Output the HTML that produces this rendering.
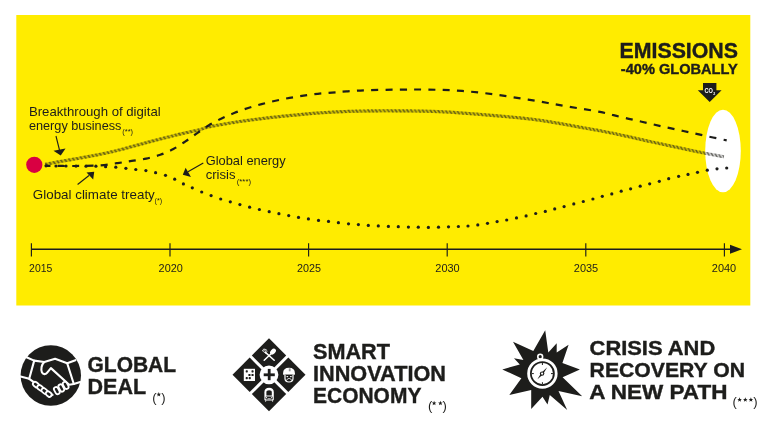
<!DOCTYPE html>
<html><head><meta charset="utf-8"><style>
html,body{margin:0;padding:0;background:#fff;}
body{width:768px;height:432px;overflow:hidden;}
svg{display:block;will-change:transform;font-family:"Liberation Sans",sans-serif;}
</style></head><body>
<svg width="768" height="432" viewBox="0 0 768 432">
<rect x="0" y="0" width="768" height="432" fill="#fff"/>
<rect x="16.3" y="15" width="734" height="290.5" fill="#FFEC00"/>
<!-- axis -->
<g stroke="#1d1d1b" stroke-width="1.6" fill="none">
<line x1="31.4" y1="249.2" x2="733" y2="249.2"/>
<line x1="31.4" y1="243.2" x2="31.4" y2="256.4" stroke-width="1.15"/><line x1="170.0" y1="243.2" x2="170.0" y2="256.4" stroke-width="1.15"/><line x1="308.6" y1="243.2" x2="308.6" y2="256.4" stroke-width="1.15"/><line x1="447.2" y1="243.2" x2="447.2" y2="256.4" stroke-width="1.15"/><line x1="585.8" y1="243.2" x2="585.8" y2="256.4" stroke-width="1.15"/><line x1="724.4" y1="243.2" x2="724.4" y2="256.4" stroke-width="1.15"/>
</g>
<polygon points="730,244.7 742,249.2 730,253.7" fill="#1d1d1b"/>
<g fill="#1d1d1b" font-size="10.5"><text x="29.1" y="271.7" textLength="23.2" lengthAdjust="spacingAndGlyphs">2015</text><text x="158.6" y="271.7" textLength="24.2" lengthAdjust="spacingAndGlyphs">2020</text><text x="297.0" y="271.7" textLength="24.0" lengthAdjust="spacingAndGlyphs">2025</text><text x="435.3" y="271.7" textLength="24.4" lengthAdjust="spacingAndGlyphs">2030</text><text x="573.8" y="271.7" textLength="24.4" lengthAdjust="spacingAndGlyphs">2035</text><text x="711.8" y="271.7" textLength="24.4" lengthAdjust="spacingAndGlyphs">2040</text></g>
<!-- ellipse -->
<ellipse cx="723" cy="151" rx="17.8" ry="41.3" fill="#fff"/>
<!-- curves -->
<path d="M45.00,165.80 C50.00,165.83 65.83,166.07 75.00,166.00 C84.17,165.93 92.92,165.88 100.00,165.40 C107.08,164.92 112.22,163.85 117.50,163.10 C122.78,162.35 126.92,161.65 131.70,160.90 C136.48,160.15 141.43,159.62 146.20,158.60 C150.97,157.58 155.77,156.40 160.30,154.80 C164.83,153.20 169.20,151.23 173.40,149.00 C177.60,146.77 181.53,144.05 185.50,141.40 C189.47,138.75 193.30,135.78 197.20,133.10 C201.10,130.42 204.83,127.73 208.90,125.30 C212.97,122.87 217.30,120.58 221.60,118.50 C225.90,116.42 230.27,114.55 234.70,112.80 C239.13,111.05 243.72,109.45 248.20,108.00 C252.68,106.55 257.05,105.32 261.60,104.10 C266.15,102.88 270.83,101.73 275.50,100.70 C280.17,99.67 284.92,98.73 289.60,97.90 C294.28,97.07 298.90,96.38 303.60,95.70 C308.30,95.02 313.07,94.32 317.80,93.80 C322.53,93.28 327.22,93.00 332.00,92.60 C336.78,92.20 340.72,91.80 346.50,91.40 C352.28,91.00 357.78,90.50 366.70,90.20 C375.62,89.90 389.82,89.70 400.00,89.60 C410.18,89.50 418.53,89.45 427.80,89.60 C437.07,89.75 446.35,89.93 455.60,90.50 C464.85,91.07 474.07,91.93 483.30,93.00 C492.53,94.07 501.73,95.50 511.00,96.90 C520.27,98.30 529.62,99.83 538.90,101.40 C548.18,102.97 556.52,104.55 566.70,106.30 C576.88,108.05 590.98,110.12 600.00,111.90 C609.02,113.68 613.85,115.37 620.80,117.00 C627.75,118.63 634.75,120.12 641.70,121.70 C648.65,123.28 655.57,124.95 662.50,126.50 C669.43,128.05 676.35,129.48 683.30,131.00 C690.25,132.52 696.97,134.03 704.20,135.60 C711.43,137.17 722.95,139.60 726.70,140.40" fill="none" stroke="#1d1d1b" stroke-width="2.2" stroke-dasharray="7.0 7.277" stroke-dashoffset="1.518"/>
<path d="M45.00,164.40 C47.17,163.98 52.75,162.85 58.00,161.90 C63.25,160.95 70.38,159.78 76.50,158.70 C82.62,157.62 89.12,156.48 94.70,155.40 C100.28,154.32 105.78,153.13 110.00,152.20 C114.22,151.27 115.00,151.10 120.00,149.80 C125.00,148.50 135.00,145.77 140.00,144.40 C145.00,143.03 145.00,142.90 150.00,141.60 C155.00,140.30 165.00,137.85 170.00,136.60 C175.00,135.35 175.00,135.27 180.00,134.10 C185.00,132.93 195.00,130.85 200.00,129.60 C205.00,128.35 203.33,127.95 210.00,126.60 C216.67,125.25 230.00,123.00 240.00,121.50 C250.00,120.00 260.00,118.75 270.00,117.60 C280.00,116.45 291.67,115.38 300.00,114.60 C308.33,113.82 311.67,113.45 320.00,112.90 C328.33,112.35 338.33,111.65 350.00,111.30 C361.67,110.95 375.00,110.73 390.00,110.80 C405.00,110.87 422.50,110.88 440.00,111.70 C457.50,112.52 478.33,114.27 495.00,115.70 C511.67,117.13 522.50,117.78 540.00,120.30 C557.50,122.82 585.83,128.20 600.00,130.80 C614.17,133.40 616.67,134.12 625.00,135.90 C633.33,137.68 641.67,139.67 650.00,141.50 C658.33,143.33 666.67,145.12 675.00,146.90 C683.33,148.68 691.83,150.55 700.00,152.20 C708.17,153.85 720.00,156.03 724.00,156.80" fill="none" stroke="#000" stroke-opacity="0.2" stroke-width="3.2"/>
<g fill="none" stroke="#2a2a22" stroke-opacity="0.55" stroke-width="1.15" stroke-dasharray="1.8 2.1">
<path transform="translate(0,-1)" d="M45.00,164.40 C47.17,163.98 52.75,162.85 58.00,161.90 C63.25,160.95 70.38,159.78 76.50,158.70 C82.62,157.62 89.12,156.48 94.70,155.40 C100.28,154.32 105.78,153.13 110.00,152.20 C114.22,151.27 115.00,151.10 120.00,149.80 C125.00,148.50 135.00,145.77 140.00,144.40 C145.00,143.03 145.00,142.90 150.00,141.60 C155.00,140.30 165.00,137.85 170.00,136.60 C175.00,135.35 175.00,135.27 180.00,134.10 C185.00,132.93 195.00,130.85 200.00,129.60 C205.00,128.35 203.33,127.95 210.00,126.60 C216.67,125.25 230.00,123.00 240.00,121.50 C250.00,120.00 260.00,118.75 270.00,117.60 C280.00,116.45 291.67,115.38 300.00,114.60 C308.33,113.82 311.67,113.45 320.00,112.90 C328.33,112.35 338.33,111.65 350.00,111.30 C361.67,110.95 375.00,110.73 390.00,110.80 C405.00,110.87 422.50,110.88 440.00,111.70 C457.50,112.52 478.33,114.27 495.00,115.70 C511.67,117.13 522.50,117.78 540.00,120.30 C557.50,122.82 585.83,128.20 600.00,130.80 C614.17,133.40 616.67,134.12 625.00,135.90 C633.33,137.68 641.67,139.67 650.00,141.50 C658.33,143.33 666.67,145.12 675.00,146.90 C683.33,148.68 691.83,150.55 700.00,152.20 C708.17,153.85 720.00,156.03 724.00,156.80" stroke-dashoffset="0"/>
<path d="M45.00,164.40 C47.17,163.98 52.75,162.85 58.00,161.90 C63.25,160.95 70.38,159.78 76.50,158.70 C82.62,157.62 89.12,156.48 94.70,155.40 C100.28,154.32 105.78,153.13 110.00,152.20 C114.22,151.27 115.00,151.10 120.00,149.80 C125.00,148.50 135.00,145.77 140.00,144.40 C145.00,143.03 145.00,142.90 150.00,141.60 C155.00,140.30 165.00,137.85 170.00,136.60 C175.00,135.35 175.00,135.27 180.00,134.10 C185.00,132.93 195.00,130.85 200.00,129.60 C205.00,128.35 203.33,127.95 210.00,126.60 C216.67,125.25 230.00,123.00 240.00,121.50 C250.00,120.00 260.00,118.75 270.00,117.60 C280.00,116.45 291.67,115.38 300.00,114.60 C308.33,113.82 311.67,113.45 320.00,112.90 C328.33,112.35 338.33,111.65 350.00,111.30 C361.67,110.95 375.00,110.73 390.00,110.80 C405.00,110.87 422.50,110.88 440.00,111.70 C457.50,112.52 478.33,114.27 495.00,115.70 C511.67,117.13 522.50,117.78 540.00,120.30 C557.50,122.82 585.83,128.20 600.00,130.80 C614.17,133.40 616.67,134.12 625.00,135.90 C633.33,137.68 641.67,139.67 650.00,141.50 C658.33,143.33 666.67,145.12 675.00,146.90 C683.33,148.68 691.83,150.55 700.00,152.20 C708.17,153.85 720.00,156.03 724.00,156.80" stroke-dashoffset="-0.7"/>
<path transform="translate(0,1)" d="M45.00,164.40 C47.17,163.98 52.75,162.85 58.00,161.90 C63.25,160.95 70.38,159.78 76.50,158.70 C82.62,157.62 89.12,156.48 94.70,155.40 C100.28,154.32 105.78,153.13 110.00,152.20 C114.22,151.27 115.00,151.10 120.00,149.80 C125.00,148.50 135.00,145.77 140.00,144.40 C145.00,143.03 145.00,142.90 150.00,141.60 C155.00,140.30 165.00,137.85 170.00,136.60 C175.00,135.35 175.00,135.27 180.00,134.10 C185.00,132.93 195.00,130.85 200.00,129.60 C205.00,128.35 203.33,127.95 210.00,126.60 C216.67,125.25 230.00,123.00 240.00,121.50 C250.00,120.00 260.00,118.75 270.00,117.60 C280.00,116.45 291.67,115.38 300.00,114.60 C308.33,113.82 311.67,113.45 320.00,112.90 C328.33,112.35 338.33,111.65 350.00,111.30 C361.67,110.95 375.00,110.73 390.00,110.80 C405.00,110.87 422.50,110.88 440.00,111.70 C457.50,112.52 478.33,114.27 495.00,115.70 C511.67,117.13 522.50,117.78 540.00,120.30 C557.50,122.82 585.83,128.20 600.00,130.80 C614.17,133.40 616.67,134.12 625.00,135.90 C633.33,137.68 641.67,139.67 650.00,141.50 C658.33,143.33 666.67,145.12 675.00,146.90 C683.33,148.68 691.83,150.55 700.00,152.20 C708.17,153.85 720.00,156.03 724.00,156.80" stroke-dashoffset="-1.4"/>
</g>
<g fill="#1d1d1b"><circle cx="46.0" cy="165.8" r="1.6"/><circle cx="56.0" cy="166.0" r="1.6"/><circle cx="66.0" cy="166.0" r="1.6"/><circle cx="76.0" cy="166.1" r="1.6"/><circle cx="86.0" cy="166.2" r="1.6"/><circle cx="95.9" cy="166.2" r="1.6"/><circle cx="105.6" cy="166.7" r="1.6"/><circle cx="115.8" cy="167.2" r="1.6"/><circle cx="125.9" cy="168.3" r="1.6"/><circle cx="135.8" cy="169.5" r="1.6"/><circle cx="145.9" cy="170.6" r="1.6"/><circle cx="155.6" cy="172.7" r="1.6"/><circle cx="165.5" cy="175.3" r="1.6"/><circle cx="174.7" cy="179.2" r="1.6"/><circle cx="183.4" cy="183.9" r="1.6"/><circle cx="192.3" cy="187.8" r="1.6"/><circle cx="201.7" cy="192.0" r="1.6"/><circle cx="211.1" cy="195.6" r="1.6"/><circle cx="220.7" cy="199.0" r="1.6"/><circle cx="230.3" cy="201.8" r="1.6"/><circle cx="239.9" cy="204.6" r="1.6"/><circle cx="249.6" cy="207.2" r="1.6"/><circle cx="259.4" cy="209.5" r="1.6"/><circle cx="269.2" cy="211.7" r="1.6"/><circle cx="278.9" cy="213.7" r="1.6"/><circle cx="288.7" cy="215.6" r="1.6"/><circle cx="298.5" cy="217.4" r="1.6"/><circle cx="308.4" cy="218.9" r="1.6"/><circle cx="318.5" cy="220.4" r="1.6"/><circle cx="328.5" cy="221.4" r="1.6"/><circle cx="338.4" cy="222.7" r="1.6"/><circle cx="348.5" cy="223.8" r="1.6"/><circle cx="358.4" cy="224.6" r="1.6"/><circle cx="368.3" cy="225.4" r="1.6"/><circle cx="378.3" cy="225.9" r="1.6"/><circle cx="388.4" cy="226.4" r="1.6"/><circle cx="398.3" cy="226.7" r="1.6"/><circle cx="408.4" cy="227.1" r="1.6"/><circle cx="418.3" cy="227.2" r="1.6"/><circle cx="428.4" cy="227.4" r="1.6"/><circle cx="438.5" cy="227.2" r="1.6"/><circle cx="448.5" cy="226.8" r="1.6"/><circle cx="458.4" cy="226.5" r="1.6"/><circle cx="468.0" cy="226.0" r="1.6"/><circle cx="477.8" cy="224.9" r="1.6"/><circle cx="487.5" cy="223.3" r="1.6"/><circle cx="497.1" cy="221.6" r="1.6"/><circle cx="506.7" cy="220.0" r="1.6"/><circle cx="516.5" cy="217.9" r="1.6"/><circle cx="526.1" cy="215.9" r="1.6"/><circle cx="535.7" cy="213.5" r="1.6"/><circle cx="545.3" cy="211.4" r="1.6"/><circle cx="554.7" cy="208.9" r="1.6"/><circle cx="564.1" cy="206.6" r="1.6"/><circle cx="573.8" cy="203.9" r="1.6"/><circle cx="583.3" cy="201.5" r="1.6"/><circle cx="592.9" cy="199.0" r="1.6"/><circle cx="602.3" cy="196.3" r="1.6"/><circle cx="611.8" cy="193.9" r="1.6"/><circle cx="621.2" cy="191.2" r="1.6"/><circle cx="630.6" cy="188.8" r="1.6"/><circle cx="640.2" cy="186.2" r="1.6"/><circle cx="649.7" cy="183.8" r="1.6"/><circle cx="659.3" cy="181.3" r="1.6"/><circle cx="668.7" cy="178.7" r="1.6"/><circle cx="678.6" cy="176.3" r="1.6"/><circle cx="688.0" cy="174.4" r="1.6"/><circle cx="697.5" cy="172.3" r="1.6"/><circle cx="707.3" cy="170.2" r="1.6"/><circle cx="717.0" cy="168.8" r="1.6"/><circle cx="726.7" cy="168.0" r="1.6"/></g>
<circle cx="34.3" cy="164.8" r="8.1" fill="#D90042"/>
<!-- CO2 arrow -->
<polygon points="703,82.9 716.4,82.9 716.4,90.2 721.6,90.2 709.7,102 697.8,90.2 703,90.2" fill="#1d1d1b"/>
<text x="704.5" y="93" font-size="6.6" font-weight="bold" fill="#fff" textLength="8.4" lengthAdjust="spacingAndGlyphs">CO</text>
<text x="713.2" y="94.6" font-size="3.6" font-weight="bold" fill="#fff">2</text>
<!-- emissions -->
<g fill="#1d1d1b" font-weight="bold" stroke="#1d1d1b" stroke-width="0.4">
<text x="619.5" y="58.3" font-size="21.6" textLength="118.5" lengthAdjust="spacingAndGlyphs">EMISSIONS</text>
<text x="620.8" y="74.4" font-size="15.2" textLength="117" lengthAdjust="spacingAndGlyphs">-40% GLOBALLY</text>
</g>
<!-- annotations -->
<g fill="#1d1d1b" font-size="13.2">
<text x="28.9" y="115.75" textLength="131.8" lengthAdjust="spacingAndGlyphs">Breakthrough of digital</text>
<text x="28.9" y="129.8" textLength="92.6" lengthAdjust="spacingAndGlyphs">energy business</text>
<text x="32.8" y="199.2" textLength="122" lengthAdjust="spacingAndGlyphs">Global climate treaty</text>
<text x="205.7" y="165.3" textLength="80" lengthAdjust="spacingAndGlyphs">Global energy</text>
<text x="205.7" y="179.3" textLength="29.8" lengthAdjust="spacingAndGlyphs">crisis</text>
</g>
<g fill="#1d1d1b" font-size="6.8">
<text x="122.3" y="133.6" textLength="10.8" lengthAdjust="spacingAndGlyphs">(**)</text>
<text x="154.6" y="203.3" textLength="7.6" lengthAdjust="spacingAndGlyphs">(*)</text>
<text x="236.7" y="183.8" textLength="14.4" lengthAdjust="spacingAndGlyphs">(***)</text>
</g>
<!-- annotation arrows -->
<g stroke="#1d1d1b" stroke-width="1.1" fill="none">
<line x1="56" y1="136" x2="59.5" y2="150"/>
<line x1="77.6" y1="184.5" x2="89" y2="175.5"/>
<line x1="203.3" y1="163" x2="188" y2="171.8"/>
</g>
<g fill="#1d1d1b">
<polygon points="53.5,150.7 65.5,148.4 60.7,155.5"/>
<polygon points="86.5,172.6 94.2,171.8 93.2,179.4"/>
<polygon points="185.6,167.7 182.8,174.7 191,177"/>
</g>
<!-- bottom: handshake -->
<circle cx="50.8" cy="375.5" r="30.2" fill="#1d1d1b"/>
<g fill="none" stroke="#fff" stroke-width="2.1" stroke-linejoin="round" stroke-linecap="round">
<path d="M26.5,357.2 L34.2,360.6 L29.2,378.8 L20.5,376.4"/>
<path d="M34.2,360.6 L44.3,362 L55.1,358.7 L67.2,363.3 L75.4,360.2"/>
<path d="M67.2,363.3 L73.8,384 L80.2,382"/>
<path d="M44.3,362 C41.5,364.5 40.6,369.5 42,372.6 C43.2,374.8 46,374.5 47.4,372.4 L50.9,368.1 L69.2,384.8 L73.8,384"/>
<path d="M29.2,378.8 L34.5,382.6"/>
</g>
<g fill="#1d1d1b" stroke="#fff" stroke-width="1.8">
<rect x="-3.2" y="-2.2" width="6.4" height="4.4" rx="2.2" transform="translate(35.9,384.6) rotate(38)"/>
<rect x="-3.2" y="-2.2" width="6.4" height="4.4" rx="2.2" transform="translate(40.2,387.8) rotate(38)"/>
<rect x="-3.2" y="-2.2" width="6.4" height="4.4" rx="2.2" transform="translate(44.5,391) rotate(38)"/>
<rect x="-3.2" y="-2.2" width="6.4" height="4.4" rx="2.2" transform="translate(48.8,394.1) rotate(38)"/>
<rect x="-3.8" y="-2.1" width="7.6" height="4.2" rx="2.1" transform="translate(56.8,390.6) rotate(62)"/>
<rect x="-3.8" y="-2.1" width="7.6" height="4.2" rx="2.1" transform="translate(61.3,388) rotate(62)"/>
<rect x="-3.8" y="-2.1" width="7.6" height="4.2" rx="2.1" transform="translate(65.7,385.4) rotate(62)"/>
</g>
<path d="M50.5,395.5 L53.5,394.8" stroke="#fff" stroke-width="1.6" fill="none"/>
<!-- bottom: smart innovation diamond -->
<g transform="translate(269,374.8) rotate(45)">
<rect x="-25.8" y="-25.8" width="24.3" height="24.3" fill="#1d1d1b"/>
<rect x="1.5" y="-25.8" width="24.3" height="24.3" fill="#1d1d1b"/>
<rect x="-25.8" y="1.5" width="24.3" height="24.3" fill="#1d1d1b"/>
<rect x="1.5" y="1.5" width="24.3" height="24.3" fill="#1d1d1b"/>
</g>
<circle cx="269" cy="374.8" r="9.4" fill="#fff"/>
<rect x="263.7" y="373.4" width="11.1" height="2.8" fill="#1d1d1b"/>
<rect x="267.8" y="368.9" width="2.8" height="11.3" fill="#1d1d1b"/>
<!-- sub-icons (white) -->
<g stroke="#fff" stroke-width="1.5" fill="none" stroke-linecap="round">
<line x1="265.4" y1="352.4" x2="274.2" y2="360.2"/>
<line x1="270.8" y1="354" x2="264.2" y2="360.2"/>
</g>
<g stroke="#fff" stroke-width="0.7" fill="none" stroke-linecap="round">
<path d="M262.3,350.6 L265.6,353.4 M263.2,349.6 L266.4,352.6 M264.3,348.9 L267.1,351.7 M262.6,350.2 Q265,347.8 266.9,350"/>
</g>
<ellipse cx="273" cy="351.6" rx="3.4" ry="2.3" transform="rotate(-45 273 351.6)" fill="#fff"/>
<!-- left: grid -->
<rect x="243.8" y="368.8" width="11.2" height="12.2" fill="#fff"/>
<g fill="#1d1d1b">
<rect x="245.7" y="370.3" width="2.1" height="2.1" rx="0.6"/><rect x="251.5" y="370.3" width="2.1" height="2.1" rx="0.6"/>
<rect x="248.4" y="374" width="2.1" height="2.1" rx="0.6"/><rect x="251.5" y="374" width="2.1" height="2.1" rx="0.6"/>
<rect x="245.7" y="377.1" width="2.1" height="2.1" rx="0.6"/><rect x="248.7" y="377.1" width="2.1" height="2.1" rx="0.6"/>
</g>
<!-- right: worker face -->
<path d="M283.1,374.7 L283.1,373.2 Q283.1,367.7 289,367.7 Q294.9,367.7 294.9,373.2 L294.9,374.7 Z" fill="#fff"/>
<rect x="288.8" y="368.3" width="1.8" height="3" fill="#999"/>
<path d="M285,374.8 L285,378.6 Q285,382 289,382 Q293,382 293,378.6 L293,374.8" fill="#1d1d1b" stroke="#fff" stroke-width="1.2"/>
<ellipse cx="287.3" cy="376.6" rx="1" ry="0.65" fill="#fff"/>
<ellipse cx="290.9" cy="376.6" rx="1" ry="0.65" fill="#fff"/>
<path d="M286.4,380.6 Q287.2,378.4 289.1,378.4 Q291,378.4 291.8,380.6" fill="none" stroke="#fff" stroke-width="0.8"/>
<!-- bottom: train -->
<path d="M264.4,399.6 L264.4,392.4 Q264.4,387.8 269.1,387.8 Q273.8,387.8 273.8,392.4 L273.8,399.6 Q273.8,400.6 272.8,400.6 L265.4,400.6 Q264.4,400.6 264.4,399.6 Z" fill="#fff"/>
<path d="M266.4,395.4 L266.4,391.8 Q266.4,390.3 269.1,390.3 Q271.8,390.3 271.8,391.8 L271.8,395.4 Z" fill="#1d1d1b"/>
<rect x="265.5" y="396.6" width="7.2" height="2.9" rx="0.8" fill="#1d1d1b"/>
<circle cx="266.5" cy="397.7" r="0.65" fill="#fff"/><circle cx="271.7" cy="397.7" r="0.65" fill="#fff"/>
<rect x="267.5" y="398.4" width="3.2" height="0.8" fill="#fff"/>
<g stroke="#fff" stroke-width="1"><line x1="265.8" y1="400.4" x2="265.6" y2="401.6"/><line x1="272.4" y1="400.4" x2="272.6" y2="401.6"/></g>
<!-- bottom: crisis star -->
<polygon points="545.2,330.2 548.3,352.6 556.7,343.2 556.7,352.6 568.6,344.8 562.4,363.0 579.9,369.6 562.6,377.2 582.2,396.2 558.5,391.0 567.2,410.1 549.8,395.1 547.5,404.6 542.5,396.8 531.2,409.0 531.2,389.9 509.3,395.1 521.4,378.3 502.3,369.4 519.8,364.6 514.0,358.3 523.4,359.9 513.0,341.7 533.3,351.0" fill="#1d1d1b"/>
<circle cx="542.4" cy="373.6" r="13.8" fill="none" stroke="#fff" stroke-width="2.8"/>
<circle cx="542.4" cy="373.6" r="10.6" fill="#fff"/>
<circle cx="540.2" cy="356.7" r="2.4" fill="none" stroke="#fff" stroke-width="1.6"/>
<path d="M537.4,379.3 L541.2,372.9 L547.2,367.2 L542.9,374.4 Z" fill="#1d1d1b"/>
<circle cx="542.1" cy="373.6" r="2.2" fill="#1d1d1b"/>
<circle cx="542.1" cy="373.6" r="1.1" fill="#fff"/>
<g stroke="#1d1d1b" stroke-width="1"><line x1="542.4" y1="363" x2="542.4" y2="365"/><line x1="542.4" y1="382.2" x2="542.4" y2="384.2"/><line x1="531.8" y1="373.6" x2="533.8" y2="373.6"/><line x1="551" y1="373.6" x2="553" y2="373.6"/></g>
<!-- bottom texts -->
<g fill="#1d1d1b" font-weight="bold" stroke="#1d1d1b" stroke-width="0.4">
<text x="87.5" y="371.8" font-size="22.4" textLength="88.6" lengthAdjust="spacingAndGlyphs">GLOBAL</text>
<text x="87.5" y="394" font-size="22.4" textLength="58.6" lengthAdjust="spacingAndGlyphs">DEAL</text>
<text x="313" y="358.9" font-size="22.4" textLength="77" lengthAdjust="spacingAndGlyphs">SMART</text>
<text x="313" y="381" font-size="22.4" textLength="133" lengthAdjust="spacingAndGlyphs">INNOVATION</text>
<text x="313" y="403" font-size="22.4" textLength="108.4" lengthAdjust="spacingAndGlyphs">ECONOMY</text>
<text x="589.6" y="354.6" font-size="20.6" textLength="125.6" lengthAdjust="spacingAndGlyphs">CRISIS AND</text>
<text x="589.6" y="376.7" font-size="20.6" textLength="155.4" lengthAdjust="spacingAndGlyphs">RECOVERY ON</text>
<text x="589.2" y="398.5" font-size="20.6" textLength="138.2" lengthAdjust="spacingAndGlyphs">A NEW PATH</text>
</g>
<g fill="#1d1d1b" font-size="13">
<text x="152.3" y="401.5">(</text><text x="161.3" y="401.5">)</text>
<text x="428" y="410.1">(</text><text x="442.4" y="410.1">)</text>
<text x="732.5" y="406.2">(</text><text x="753.2" y="406.2">)</text>
<polygon points="158.80,392.05 159.42,393.65 161.13,393.74 159.80,394.82 160.24,396.48 158.80,395.55 157.36,396.48 157.80,394.82 156.47,393.74 158.18,393.65"/><polygon points="434.10,400.85 434.72,402.45 436.43,402.54 435.10,403.62 435.54,405.28 434.10,404.35 432.66,405.28 433.10,403.62 431.77,402.54 433.48,402.45"/><polygon points="440.40,400.85 441.02,402.45 442.73,402.54 441.40,403.62 441.84,405.28 440.40,404.35 438.96,405.28 439.40,403.62 438.07,402.54 439.78,402.45"/><polygon points="739.60,397.35 740.22,398.95 741.93,399.04 740.60,400.12 741.04,401.78 739.60,400.85 738.16,401.78 738.60,400.12 737.27,399.04 738.98,398.95"/><polygon points="745.30,397.35 745.92,398.95 747.63,399.04 746.30,400.12 746.74,401.78 745.30,400.85 743.86,401.78 744.30,400.12 742.97,399.04 744.68,398.95"/><polygon points="750.90,397.35 751.52,398.95 753.23,399.04 751.90,400.12 752.34,401.78 750.90,400.85 749.46,401.78 749.90,400.12 748.57,399.04 750.28,398.95"/>
</g>
</svg>
</body></html>
